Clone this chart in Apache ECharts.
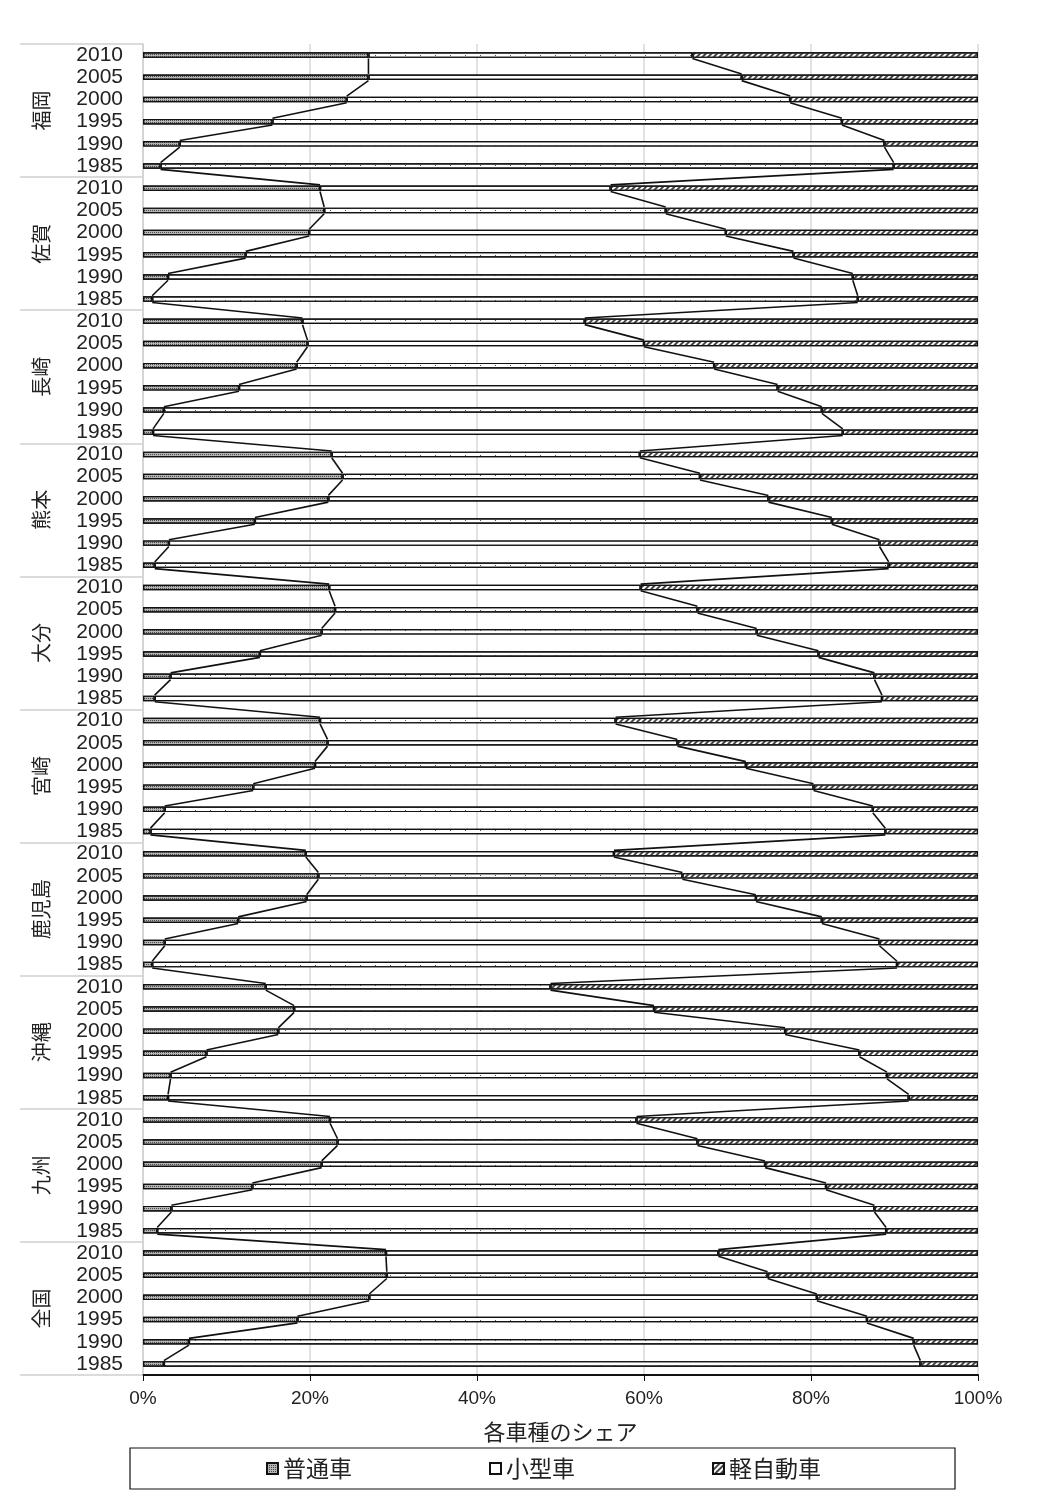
<!DOCTYPE html>
<html><head><meta charset="utf-8">
<script src="https://cdn.jsdelivr.net/npm/echarts@6/dist/echarts.min.js"></script>
<style>html,body{margin:0;padding:0;background:#fff}#c{width:1040px;height:1503px}</style>
</head><body><div id="c"></div>
<script>
// Regions (top to bottom) and survey years within each region (top to bottom)
const regions = ['福岡','佐賀','長崎','熊本','大分','宮崎','鹿児島','沖縄','九州','全国'];
const years = ['2010','2005','2000','1995','1990','1985'];
const seriesNames = ['普通車','小型車','軽自動車'];
const xTicks = [0, 20, 40, 60, 80, 100];

// 普通車 share (%), per region: 2010, 2005, 2000, 1995, 1990, 1985
const futsuShare = [
  27.0,27.0,24.4,15.5,4.4,2.1,   // 福岡
  21.2,21.7,19.9,12.3,3.0,1.1,   // 佐賀
  19.1,19.7,18.4,11.5,2.5,1.2,   // 長崎
  22.6,23.9,22.2,13.4,3.1,1.4,   // 熊本
  22.3,23.0,21.4,14.0,3.3,1.4,   // 大分
  21.2,22.1,20.6,13.2,2.6,0.9,   // 宮崎
  19.5,21.0,19.6,11.4,2.6,1.1,   // 鹿児島
  14.7,18.1,16.2,7.6,3.3,3.0,    // 沖縄
  22.4,23.3,21.4,13.1,3.4,1.7,   // 九州
  29.1,29.2,27.1,18.5,5.5,2.5    // 全国
];
// 小型車 share (%)
const kogataShare = [
  38.8,44.7,53.1,68.2,84.4,87.8,
  34.8,40.9,49.9,65.6,82.0,84.5,
  33.8,40.3,50.0,64.5,78.8,82.6,
  36.9,42.8,52.7,69.1,85.1,87.9,
  37.3,43.4,52.1,66.9,84.3,87.1,
  35.4,41.9,51.6,67.1,84.8,88.0,
  36.9,43.6,53.8,69.9,85.6,89.2,
  34.1,43.1,60.7,78.2,85.8,88.7,
  36.7,43.1,53.1,68.7,84.2,87.3,
  39.8,45.6,53.6,68.2,86.8,90.6
];
// 軽自動車 share (%)
const keiShare = [
  34.2,28.3,22.5,16.3,11.2,10.1,
  44.0,37.4,30.2,22.1,15.0,14.4,
  47.1,40.0,31.6,24.0,18.7,16.2,
  40.5,33.3,25.1,17.5,11.8,10.7,
  40.4,33.6,26.5,19.1,12.4,11.5,
  43.4,36.0,27.8,19.7,12.6,11.1,
  43.6,35.4,26.6,18.7,11.8,9.7,
  51.2,38.8,23.1,14.2,10.9,8.3,
  40.9,33.6,25.5,18.2,12.4,11.0,
  31.1,25.2,19.3,13.3,7.7,6.9
];

const categories = [];
regions.forEach(r => years.forEach(y => categories.push(r + ' ' + y)));

const BAR_W = 5.5;
const FONT = "'Liberation Sans Narrow','Liberation Sans','Noto Sans CJK JP',sans-serif";
const JFONT = "'Noto Sans CJK JP',sans-serif";

// series-line data: cumulative boundaries between consecutive bars
const lineData = [];
for (let i = 0; i < categories.length - 1; i++) {
  lineData.push([
    futsuShare[i], futsuShare[i + 1],
    futsuShare[i] + kogataShare[i], futsuShare[i + 1] + kogataShare[i + 1],
    i
  ]);
}

function renderSeriesLines(params, api) {
  const idx = api.value(4);
  const half = BAR_W / 2 + 0.6;
  const children = [];
  [[0, 1], [2, 3]].forEach(([a, b]) => {
    const p1 = api.coord([api.value(a), idx]);
    const p2 = api.coord([api.value(b), idx + 1]);
    children.push({
      type: 'line',
      shape: { x1: p1[0], y1: p1[1] + half, x2: p2[0], y2: p2[1] - half },
      style: { stroke: '#111', lineWidth: 1.6 }
    });
  });
  return { type: 'group', children };
}

const chart = echarts.init(document.getElementById('c'), null, { renderer: 'canvas' });
const barBorder = { borderColor: '#111', borderWidth: 1.2 };
chart.setOption({
  animation: false,
  backgroundColor: '#fff',
  grid: { left: 143, right: 62, top: 44, bottom: 128, containLabel: false, outerBoundsMode: 'none' },
  xAxis: {
    type: 'value', position: 'bottom', min: xTicks[0], max: xTicks[xTicks.length - 1], interval: 20,
    axisLine: { show: true, lineStyle: { color: '#111', width: 2 } },
    axisTick: { show: true, length: 6, lineStyle: { color: '#111' } },
    splitLine: { show: true, lineStyle: { color: '#d9d9d9', width: 1.5 } },
    axisLabel: { formatter: '{value}%', fontSize: 19, color: '#222', margin: 14, fontFamily: FONT },
    name: '各車種のシェア', nameLocation: 'middle', nameGap: 46,
    nameTextStyle: { fontSize: 22, color: '#222', fontFamily: JFONT }
  },
  yAxis: [
    {
      type: 'category', inverse: true, data: categories, position: 'left',
      axisLine: { show: true, lineStyle: { color: '#d0d0d0', width: 1.5 } },
      axisTick: { show: false },
      axisLabel: { interval: 0, margin: 20, fontSize: 21, color: '#222', fontFamily: FONT,
        formatter: v => v.split(' ')[1] }
    },
    {
      type: 'category', inverse: true, data: regions, position: 'left',
      axisLine: { show: false },
      axisTick: { show: true, length: 123, alignWithLabel: false, interval: 0, lineStyle: { color: '#d0d0d0', width: 1.5 } },
      axisLabel: { interval: 0, rotate: 90, margin: 92, fontSize: 20, color: '#222', fontFamily: JFONT }
    }
  ],
  legend: {
    data: seriesNames, top: 1448, left: 130,
    padding: [9, 134, 9, 136], itemGap: 137, itemWidth: 11, itemHeight: 11,
    borderColor: '#111', borderWidth: 1.2, icon: 'rect',
    textStyle: { fontSize: 23, color: '#222', fontFamily: JFONT }
  },
  series: [
    {
      name: seriesNames[0], type: 'bar', stack: 'total', barWidth: BAR_W, yAxisIndex: 0,
      data: futsuShare,
      itemStyle: Object.assign({ color: '#b4b4b4',
        decal: { symbol: 'rect', symbolSize: 1, dashArrayX: [1, 1], dashArrayY: [1, 1], color: '#4a4a4a' } }, barBorder)
    },
    {
      name: seriesNames[1], type: 'bar', stack: 'total', barWidth: BAR_W, yAxisIndex: 0,
      data: kogataShare,
      itemStyle: Object.assign({ color: '#ffffff',
        decal: { symbol: 'rect', symbolSize: 1, dashArrayX: [1, 14], dashArrayY: [1, 4], color: '#555' } }, barBorder)
    },
    {
      name: seriesNames[2], type: 'bar', stack: 'total', barWidth: BAR_W, yAxisIndex: 0,
      data: keiShare,
      itemStyle: Object.assign({ color: '#ffffff',
        decal: { symbol: 'rect', symbolSize: 1, dashArrayX: [1, 0], dashArrayY: [2, 2], rotation: -Math.PI / 4, color: '#444' } }, barBorder)
    },
    {
      name: 'series-lines', type: 'custom', yAxisIndex: 0, z: 5,
      renderItem: renderSeriesLines,
      dimensions: ['a1', 'a2', 'b1', 'b2', 'cat'],
      encode: { x: [0, 1, 2, 3], y: 4 },
      data: lineData, silent: true
    }
  ]
});
</script>
</body></html>
